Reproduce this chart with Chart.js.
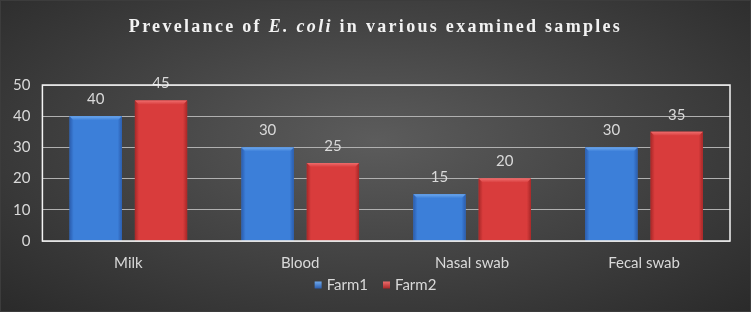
<!DOCTYPE html>
<html>
<head>
<meta charset="utf-8">
<script src="https://cdn.jsdelivr.net/npm/chart.js@4.4.1/dist/chart.umd.min.js"></script>
<style>
  html, body { margin: 0; padding: 0; }
  body {
    width: 751px; height: 312px; overflow: hidden;
    background: radial-gradient(ellipse at 50% 45%, #5c5c5c 0%, #454545 45%, #2a2a2a 100%);
  }
  #wrap { position: relative; width: 751px; height: 312px; box-sizing: border-box; border: 1px solid #3c3c3c; }
  canvas { display: block; }
</style>
</head>
<body>
<div id="wrap"><canvas id="chart" width="749" height="310"></canvas></div>
<script>
// ---- data ----
const categories = ['Milk', 'Blood', 'Nasal swab', 'Fecal swab'];
const farm1 = [40, 30, 15, 30];
const farm2 = [45, 25, 20, 35];
const yTicks = [0, 10, 20, 30, 40, 50];

const textColor = '#d9d9d9';
const sansFont = 'Lato, "Open Sans", sans-serif';

// colours for the bevelled bars: [edge, middle, top highlight]
const shades = {
    Farm1: ['#2b5dae', '#3c7fd9', '#6ea9ee'],
    Farm2: ['#a82828', '#d93c3c', '#ee6c6c']
};

// title with italic species name
const titleParts = [
    { text: 'Prevelance of ', italic: false },
    { text: 'E. coli', italic: true },
    { text: ' in various examined samples', italic: false }
];

const titlePlugin = {
    id: 'richTitle',
    afterDraw(chart) {
        const ctx = chart.ctx;
        ctx.save();
        ctx.fillStyle = '#f2f2f2';
        ctx.textBaseline = 'middle';
        ctx.letterSpacing = '2.3px';
        const fonts = titleParts.map(p =>
            (p.italic ? 'italic ' : '') + 'bold 18px "Liberation Serif", "DejaVu Serif", serif');
        let total = 0;
        const widths = titleParts.map((p, i) => {
            ctx.font = fonts[i];
            const w = ctx.measureText(p.text).width;
            total += w;
            return w;
        });
        let x = chart.width / 2 - total / 2;
        titleParts.forEach((p, i) => {
            ctx.font = fonts[i];
            ctx.textAlign = 'left';
            ctx.fillText(p.text, x, 26);
            x += widths[i];
        });
        ctx.restore();
    }
};

// legend drawn by hand so its spot can be set exactly
const legendPlugin = {
    id: 'boxLegend',
    afterDraw(chart) {
        const ctx = chart.ctx;
        const y = 284;
        const box = 7, gapText = 5, gapItem = 15;
        ctx.save();
        ctx.font = '15px ' + sansFont;
        const items = chart.data.datasets.map(ds => ({ label: ds.label, w: ctx.measureText(ds.label).width }));
        const total = items.reduce((s, it) => s + box + gapText + it.w, 0) + gapItem * (items.length - 1);
        let x = chart.width / 2 - total / 2;
        items.forEach(it => {
            const sh = shades[it.label];
            const g = ctx.createLinearGradient(0, y - box / 2, 0, y + box / 2);
            g.addColorStop(0, sh[2]);
            g.addColorStop(1, sh[0]);
            ctx.fillStyle = g;
            ctx.fillRect(x, y - box / 2, box, box);
            ctx.fillStyle = textColor;
            ctx.textAlign = 'left';
            ctx.textBaseline = 'middle';
            ctx.fillText(it.label, x + box + gapText, y);
            x += box + gapText + it.w + gapItem;
        });
        ctx.restore();
    }
};

// bevelled bar look + value labels
const barLook = {
    id: 'barLook',
    afterDatasetsDraw(chart) {
        const ctx = chart.ctx;
        chart.data.datasets.forEach((ds, di) => {
            const meta = chart.getDatasetMeta(di);
            const sh = shades[ds.label];
            meta.data.forEach((bar, i) => {
                const left = bar.x - bar.width / 2;
                const right = bar.x + bar.width / 2;
                const top = bar.y;
                const bottom = bar.base;
                ctx.save();
                const g = ctx.createLinearGradient(left, 0, right, 0);
                g.addColorStop(0, sh[0]);
                g.addColorStop(0.08, sh[1]);
                g.addColorStop(0.92, sh[1]);
                g.addColorStop(1, sh[0]);
                ctx.fillStyle = g;
                ctx.fillRect(left, top, right - left, bottom - top);
                // top bevel
                const b = 4;
                const gt = ctx.createLinearGradient(0, top, 0, top + b);
                gt.addColorStop(0, sh[2]);
                gt.addColorStop(1, sh[1]);
                ctx.fillStyle = gt;
                ctx.beginPath();
                ctx.moveTo(left, top);
                ctx.lineTo(right, top);
                ctx.lineTo(right - b, top + b);
                ctx.lineTo(left + b, top + b);
                ctx.closePath();
                ctx.fill();
                // value label
                ctx.fillStyle = textColor;
                ctx.font = '15px ' + sansFont;
                ctx.textAlign = 'center';
                ctx.textBaseline = 'middle';
                ctx.fillText(String(ds.data[i]), bar.x, top - 17);
                ctx.restore();
            });
        });
    }
};

// white frame round the plot area
const frame = {
    id: 'frame',
    afterDatasetsDraw(chart) {
        const a = chart.chartArea;
        const ctx = chart.ctx;
        ctx.save();
        ctx.strokeStyle = '#f4f4f4';
        ctx.lineWidth = 1.5;
        ctx.strokeRect(a.left, a.top, a.right - a.left, a.bottom - a.top);
        ctx.restore();
    }
};

new Chart(document.getElementById('chart'), {
    type: 'bar',
    data: {
        labels: categories,
        datasets: [
            { label: 'Farm1', data: farm1, backgroundColor: '#3c7fd9', borderWidth: 0 },
            { label: 'Farm2', data: farm2, backgroundColor: '#da3c3c', borderWidth: 0 }
        ]
    },
    options: {
        responsive: false,
        animation: false,
        categoryPercentage: 0.76,
        barPercentage: 0.8,
        layout: { padding: { top: 84, right: 20, left: 0, bottom: 34 } },
        scales: {
            x: {
                grid: { display: false },
                border: { display: false },
                ticks: { color: textColor, font: { family: sansFont, size: 15 }, padding: 5 }
            },
            y: {
                min: 0, max: 50,
                afterBuildTicks(axis) { axis.ticks = yTicks.map(v => ({ value: v })); },
                grid: { color: '#b0b0b0', lineWidth: 1, drawTicks: false },
                border: { display: false },
                ticks: { color: textColor, font: { family: sansFont, size: 15 }, padding: 12 }
            }
        },
        plugins: {
            legend: { display: false },
            tooltip: { enabled: false }
        }
    },
    plugins: [titlePlugin, barLook, frame, legendPlugin]
});
</script>
</body>
</html>
